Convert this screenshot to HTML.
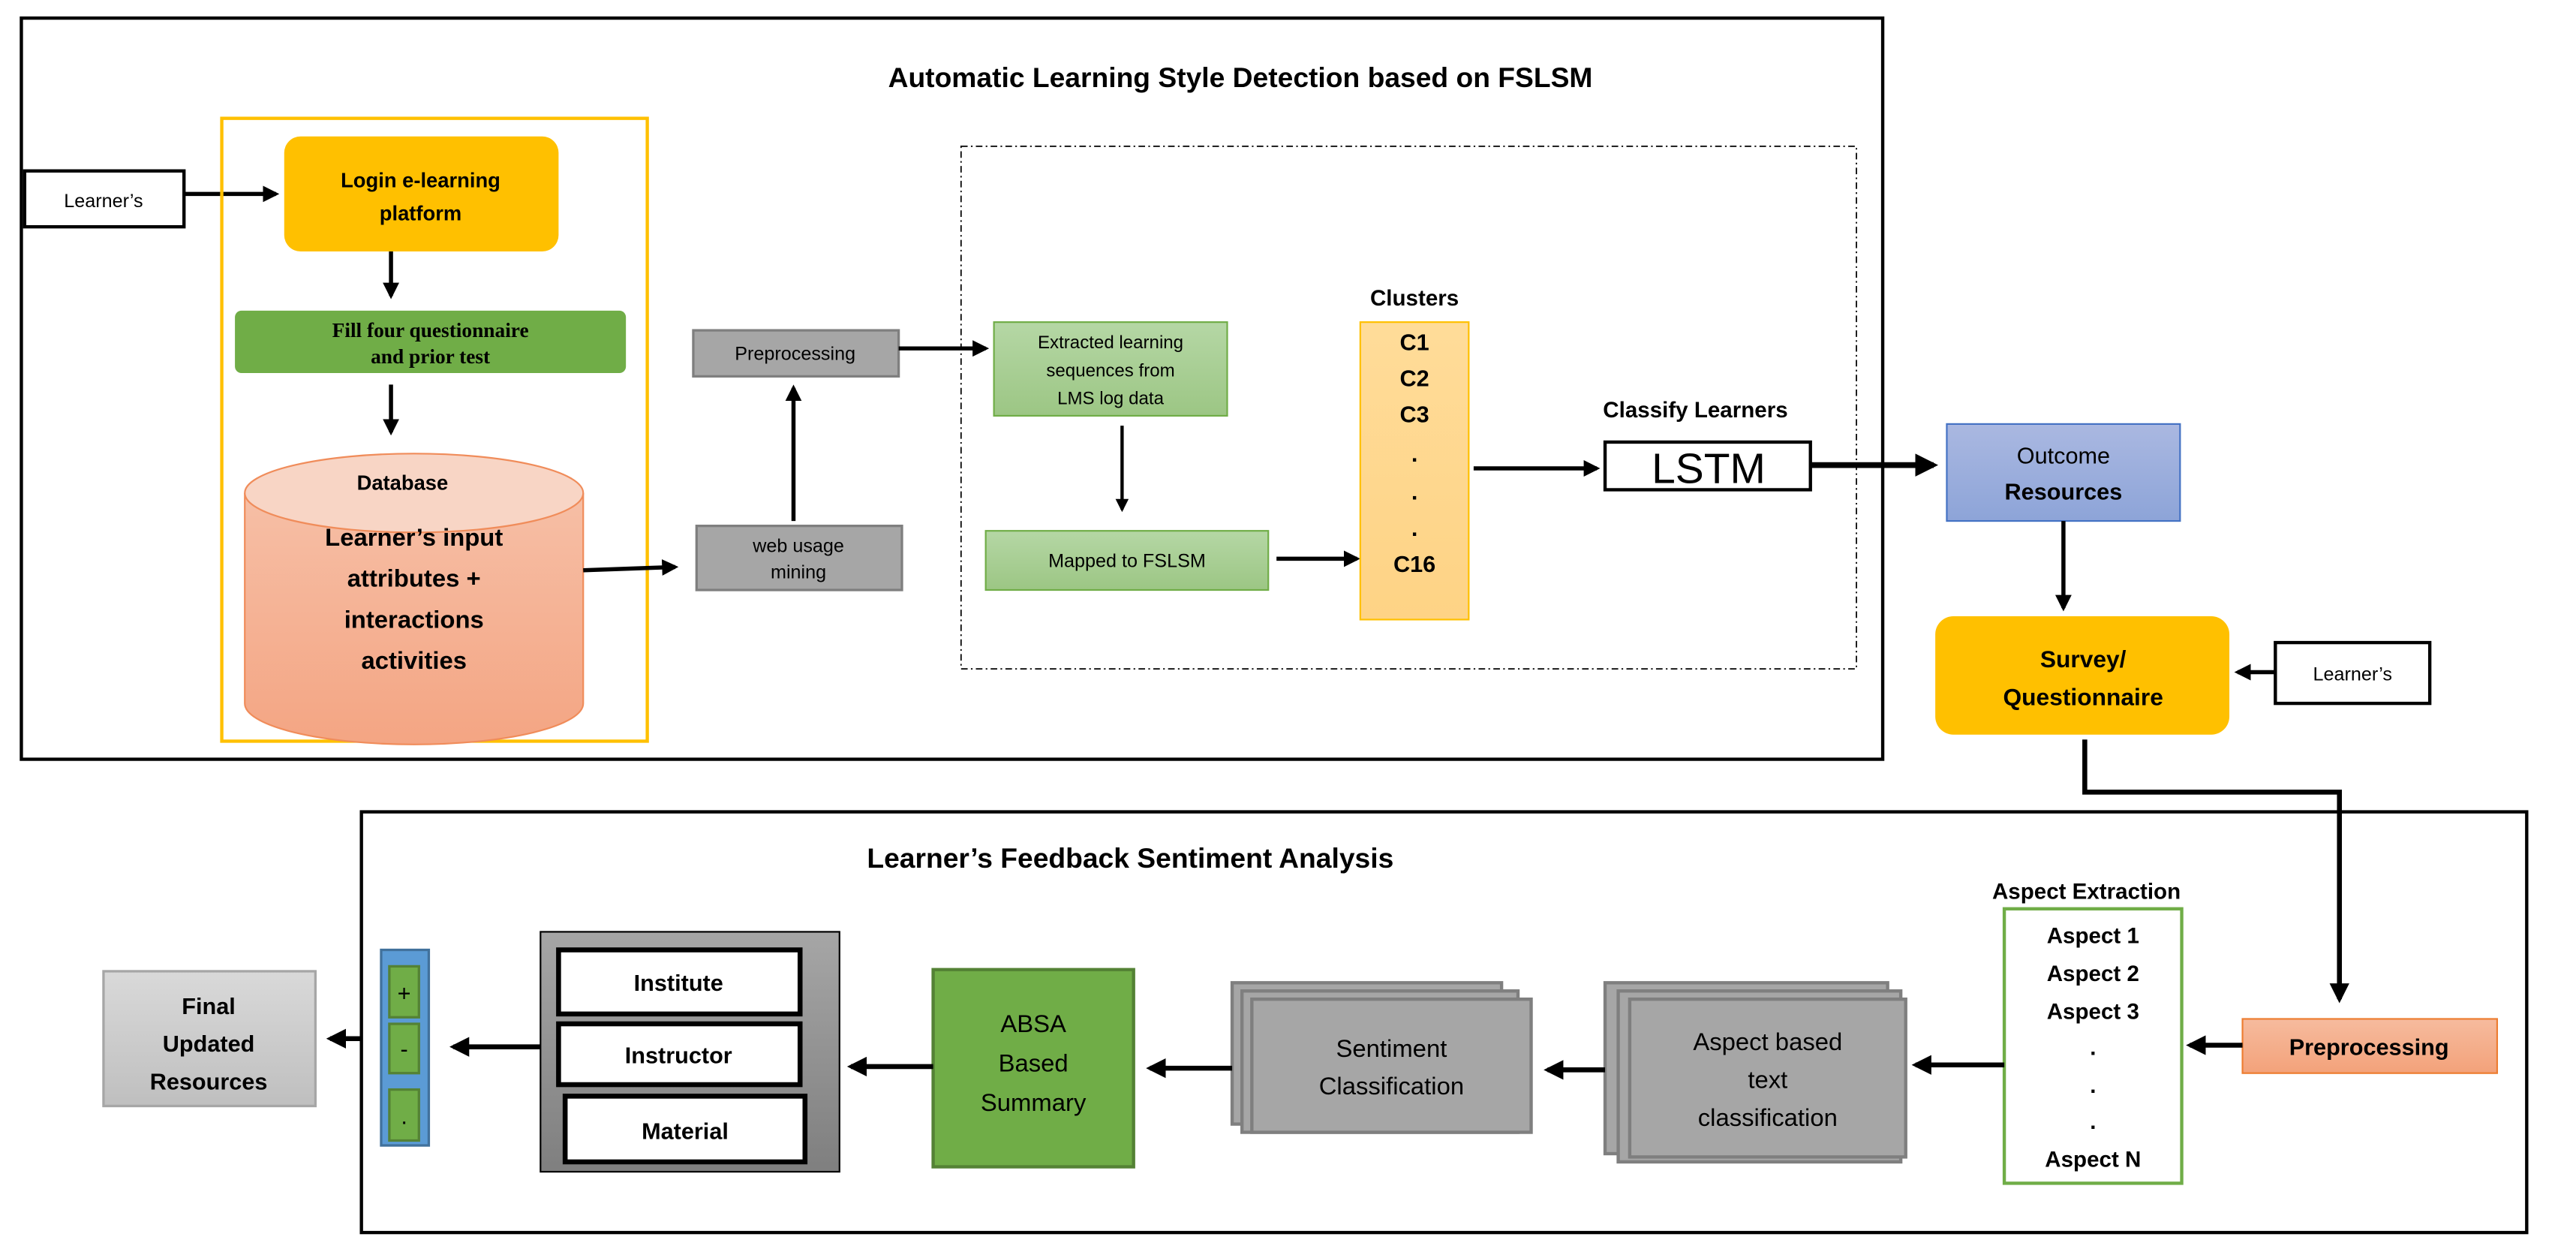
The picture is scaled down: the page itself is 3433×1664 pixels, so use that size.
<!DOCTYPE html>
<html><head><meta charset="utf-8"><style>html,body{margin:0;padding:0;background:#fff}svg{display:block}</style></head><body>
<svg width="3433" height="1664" viewBox="0 0 1568 760" xmlns="http://www.w3.org/2000/svg" font-family="'Liberation Sans', sans-serif">
<defs>
<marker id="ah" markerWidth="4" markerHeight="4" refX="3.2" refY="2" orient="auto" markerUnits="strokeWidth"><path d="M0,0 L4,2 L0,4 z" fill="#000"/></marker>
<linearGradient id="cyl" x1="0" y1="0" x2="0" y2="1"><stop offset="0" stop-color="#F6BFA6"/><stop offset="1" stop-color="#F4A583"/></linearGradient>
<linearGradient id="grn" x1="0" y1="0" x2="0" y2="1"><stop offset="0" stop-color="#B5D7A5"/><stop offset="1" stop-color="#9CC684"/></linearGradient>
<linearGradient id="blu" x1="0" y1="0" x2="0" y2="1"><stop offset="0" stop-color="#AAB8E1"/><stop offset="1" stop-color="#8DA4D8"/></linearGradient>
<linearGradient id="org" x1="0" y1="0" x2="0" y2="1"><stop offset="0" stop-color="#F6BB9E"/><stop offset="1" stop-color="#F3A27A"/></linearGradient>
<linearGradient id="gp" x1="0" y1="0" x2="0" y2="1"><stop offset="0" stop-color="#A6A6A6"/><stop offset="1" stop-color="#7F7F7F"/></linearGradient>
<linearGradient id="lg" x1="0" y1="0" x2="0" y2="1"><stop offset="0" stop-color="#D9D9D9"/><stop offset="1" stop-color="#BFBFBF"/></linearGradient>
<linearGradient id="yc" x1="0" y1="0" x2="0" y2="1"><stop offset="0" stop-color="#FFDC99"/><stop offset="1" stop-color="#FED385"/></linearGradient>
</defs>

<rect x="13" y="11" width="1133" height="451" fill="none" stroke="#000" stroke-width="2"/>
<text x="755" y="53" font-size="17" font-weight="bold" text-anchor="middle">Automatic Learning Style Detection based on FSLSM</text>

<rect x="15" y="104" width="97" height="34" fill="#fff" stroke="#000" stroke-width="2"/>
<text x="63" y="126" font-size="11.5" text-anchor="middle">Learner’s</text>
<line x1="112" y1="118" x2="168" y2="118" stroke="#000" stroke-width="2.5" marker-end="url(#ah)"/>

<rect x="135" y="72" width="259" height="379" fill="none" stroke="#FFC000" stroke-width="2"/>
<rect x="173" y="83" width="167" height="70" rx="10" fill="#FFC000"/>
<text x="256" y="114" font-size="12.5" font-weight="bold" text-anchor="middle">Login e-learning</text>
<text x="256" y="134" font-size="12.5" font-weight="bold" text-anchor="middle">platform</text>
<line x1="238" y1="153" x2="238" y2="180" stroke="#000" stroke-width="2.5" marker-end="url(#ah)"/>

<rect x="143" y="189" width="238" height="38" rx="4" fill="#70AD47"/>
<text x="262" y="205" font-size="12.5" font-weight="bold" text-anchor="middle" font-family="'Liberation Serif', serif">Fill four questionnaire</text>
<text x="262" y="221" font-size="12.5" font-weight="bold" text-anchor="middle" font-family="'Liberation Serif', serif">and prior test</text>
<line x1="238" y1="234" x2="238" y2="263" stroke="#000" stroke-width="2.5" marker-end="url(#ah)"/>

<path d="M149,300 L149,428 A103,25 0 0 0 355,428 L355,300" fill="url(#cyl)" stroke="#F08C5A" stroke-width="1"/>
<ellipse cx="252" cy="300" rx="103" ry="24" fill="#F8D5C5" stroke="#F08C5A" stroke-width="1"/>
<text x="245" y="298" font-size="12.5" font-weight="bold" text-anchor="middle">Database</text>
<text x="252" y="332" font-size="15" font-weight="bold" text-anchor="middle">Learner’s input</text>
<text x="252" y="357" font-size="15" font-weight="bold" text-anchor="middle">attributes +</text>
<text x="252" y="382" font-size="15" font-weight="bold" text-anchor="middle">interactions</text>
<text x="252" y="407" font-size="15" font-weight="bold" text-anchor="middle">activities</text>
<line x1="355" y1="347" x2="411" y2="345" stroke="#000" stroke-width="2.5" marker-end="url(#ah)"/>

<rect x="424" y="320" width="125" height="39" fill="#A6A6A6" stroke="#7F7F7F" stroke-width="1.5"/>
<text x="486" y="336" font-size="11.5" text-anchor="middle">web usage</text>
<text x="486" y="352" font-size="11.5" text-anchor="middle">mining</text>
<line x1="483" y1="317" x2="483" y2="236" stroke="#000" stroke-width="2.5" marker-end="url(#ah)"/>
<rect x="422" y="201" width="125" height="28" fill="#A6A6A6" stroke="#7F7F7F" stroke-width="1.5"/>
<text x="484" y="219" font-size="11.5" text-anchor="middle">Preprocessing</text>
<line x1="547" y1="212" x2="600" y2="212" stroke="#000" stroke-width="2.5" marker-end="url(#ah)"/>

<rect x="585" y="89" width="545" height="318" fill="none" stroke="#000" stroke-width="0.8" stroke-dasharray="4,2,1,2"/>

<rect x="605" y="196" width="142" height="57" fill="url(#grn)" stroke="#70AD47" stroke-width="1"/>
<text x="676" y="212" font-size="11" text-anchor="middle">Extracted learning</text>
<text x="676" y="229" font-size="11" text-anchor="middle">sequences  from</text>
<text x="676" y="246" font-size="11" text-anchor="middle">LMS log data</text>
<line x1="683" y1="259" x2="683" y2="310" stroke="#000" stroke-width="2" marker-end="url(#ah)"/>
<rect x="600" y="323" width="172" height="36" fill="url(#grn)" stroke="#70AD47" stroke-width="1"/>
<text x="686" y="345" font-size="11.5" text-anchor="middle">Mapped to FSLSM</text>
<line x1="777" y1="340" x2="826" y2="340" stroke="#000" stroke-width="2.5" marker-end="url(#ah)"/>

<text x="861" y="186" font-size="13.5" font-weight="bold" text-anchor="middle">Clusters</text>
<rect x="828" y="196" width="66" height="181" fill="url(#yc)" stroke="#FFC000" stroke-width="1"/>
<g font-size="14" font-weight="bold" text-anchor="middle">
<text x="861" y="213">C1</text><text x="861" y="235">C2</text><text x="861" y="257">C3</text>
<text x="861" y="281">.</text><text x="861" y="304">.</text><text x="861" y="326">.</text>
<text x="861" y="348">C16</text></g>
<line x1="897" y1="285" x2="972" y2="285" stroke="#000" stroke-width="2.5" marker-end="url(#ah)"/>
<text x="1032" y="254" font-size="13.5" font-weight="bold" text-anchor="middle">Classify Learners</text>
<rect x="977" y="269" width="125" height="29" fill="#fff" stroke="#000" stroke-width="2"/>
<text x="1040" y="294" font-size="26" text-anchor="middle">LSTM</text>
<line x1="1102" y1="283" x2="1177" y2="283" stroke="#000" stroke-width="3.5" marker-end="url(#ah)"/>

<rect x="1185" y="258" width="142" height="59" fill="url(#blu)" stroke="#4472C4" stroke-width="1"/>
<text x="1256" y="282" font-size="14" text-anchor="middle">Outcome</text>
<text x="1256" y="304" font-size="14" font-weight="bold" text-anchor="middle">Resources</text>
<line x1="1256" y1="317" x2="1256" y2="370" stroke="#000" stroke-width="2.5" marker-end="url(#ah)"/>

<rect x="1178" y="375" width="179" height="72" rx="11" fill="#FFC000"/>
<text x="1268" y="406" font-size="14.5" font-weight="bold" text-anchor="middle">Survey/</text>
<text x="1268" y="429" font-size="14.5" font-weight="bold" text-anchor="middle">Questionnaire</text>
<rect x="1385" y="391" width="94" height="37" fill="#fff" stroke="#000" stroke-width="2"/>
<text x="1432" y="414" font-size="11.5" text-anchor="middle">Learner’s</text>
<line x1="1385" y1="409" x2="1362" y2="409" stroke="#000" stroke-width="2.5" marker-end="url(#ah)"/>

<polyline points="1269,450 1269,482 1424,482 1424,608" fill="none" stroke="#000" stroke-width="3" marker-end="url(#ah)"/>

<rect x="220" y="494" width="1318" height="256" fill="none" stroke="#000" stroke-width="2"/>
<text x="688" y="528" font-size="17" font-weight="bold" text-anchor="middle">Learner’s Feedback Sentiment Analysis</text>

<text x="1270" y="547" font-size="13.5" font-weight="bold" text-anchor="middle">Aspect Extraction</text>
<rect x="1220" y="553" width="108" height="167" fill="#fff" stroke="#70AD47" stroke-width="2"/>
<g font-size="13.5" font-weight="bold" text-anchor="middle">
<text x="1274" y="574">Aspect 1</text><text x="1274" y="597">Aspect 2</text><text x="1274" y="620">Aspect 3</text>
<text x="1274" y="642">.</text><text x="1274" y="665">.</text><text x="1274" y="687">.</text>
<text x="1274" y="710">Aspect N</text></g>

<rect x="1365" y="620" width="155" height="33" fill="url(#org)" stroke="#ED7D31" stroke-width="1"/>
<text x="1442" y="642" font-size="14" font-weight="bold" text-anchor="middle">Preprocessing</text>
<line x1="1365" y1="636" x2="1333" y2="636" stroke="#000" stroke-width="3" marker-end="url(#ah)"/>

<line x1="1220" y1="648" x2="1166" y2="648" stroke="#000" stroke-width="3" marker-end="url(#ah)"/>
<rect x="977" y="598" width="172" height="104" fill="#A6A6A6" stroke="#7F7F7F" stroke-width="2"/>
<rect x="985" y="603" width="172" height="104" fill="#A6A6A6" stroke="#7F7F7F" stroke-width="2"/>
<rect x="992" y="608" width="168" height="96" fill="#A6A6A6" stroke="#7F7F7F" stroke-width="2"/>
<text x="1076" y="639" font-size="15" text-anchor="middle">Aspect based</text>
<text x="1076" y="662" font-size="15" text-anchor="middle">text</text>
<text x="1076" y="685" font-size="15" text-anchor="middle">classification</text>

<line x1="977" y1="651" x2="942" y2="651" stroke="#000" stroke-width="3" marker-end="url(#ah)"/>
<rect x="750" y="598" width="164" height="86" fill="#A6A6A6" stroke="#7F7F7F" stroke-width="2"/>
<rect x="756" y="603" width="168" height="86" fill="#A6A6A6" stroke="#7F7F7F" stroke-width="2"/>
<rect x="762" y="608" width="170" height="81" fill="#A6A6A6" stroke="#7F7F7F" stroke-width="2"/>
<text x="847" y="643" font-size="15" text-anchor="middle">Sentiment</text>
<text x="847" y="666" font-size="15" text-anchor="middle">Classification</text>

<line x1="750" y1="650" x2="700" y2="650" stroke="#000" stroke-width="3" marker-end="url(#ah)"/>
<rect x="568" y="590" width="122" height="120" fill="#70AD47" stroke="#548235" stroke-width="2"/>
<text x="629" y="628" font-size="15" text-anchor="middle">ABSA</text>
<text x="629" y="652" font-size="15" text-anchor="middle">Based</text>
<text x="629" y="676" font-size="15" text-anchor="middle">Summary</text>

<line x1="568" y1="649" x2="518" y2="649" stroke="#000" stroke-width="3" marker-end="url(#ah)"/>
<rect x="329" y="567" width="182" height="146" fill="url(#gp)" stroke="#000" stroke-width="1"/>
<rect x="340" y="578" width="147" height="39" fill="#fff" stroke="#000" stroke-width="3"/>
<rect x="340" y="623" width="147" height="37" fill="#fff" stroke="#000" stroke-width="3"/>
<rect x="344" y="667" width="146" height="40" fill="#fff" stroke="#000" stroke-width="3"/>
<text x="413" y="603" font-size="14" font-weight="bold" text-anchor="middle">Institute</text>
<text x="413" y="647" font-size="14" font-weight="bold" text-anchor="middle">Instructor</text>
<text x="417" y="693" font-size="14" font-weight="bold" text-anchor="middle">Material</text>

<line x1="329" y1="637" x2="276" y2="637" stroke="#000" stroke-width="3" marker-end="url(#ah)"/>
<rect x="232" y="578" width="29" height="119" fill="#5B9BD5" stroke="#41719C" stroke-width="1.5"/>
<rect x="237" y="588" width="18" height="31" fill="#70AD47" stroke="#548235" stroke-width="1.5"/>
<rect x="237" y="623" width="18" height="30" fill="#70AD47" stroke="#548235" stroke-width="1.5"/>
<rect x="237" y="663" width="18" height="31" fill="#70AD47" stroke="#548235" stroke-width="1.5"/>
<text x="246" y="609" font-size="14" text-anchor="middle">+</text>
<text x="246" y="643" font-size="14" text-anchor="middle">-</text>
<text x="246" y="684" font-size="14" text-anchor="middle">.</text>

<line x1="220" y1="632" x2="201" y2="632" stroke="#000" stroke-width="3" marker-end="url(#ah)"/>
<rect x="63" y="591" width="129" height="82" fill="url(#lg)" stroke="#A6A6A6" stroke-width="1.5"/>
<text x="127" y="617" font-size="14" font-weight="bold" text-anchor="middle">Final</text>
<text x="127" y="640" font-size="14" font-weight="bold" text-anchor="middle">Updated</text>
<text x="127" y="663" font-size="14" font-weight="bold" text-anchor="middle">Resources</text>
</svg>
</body></html>
